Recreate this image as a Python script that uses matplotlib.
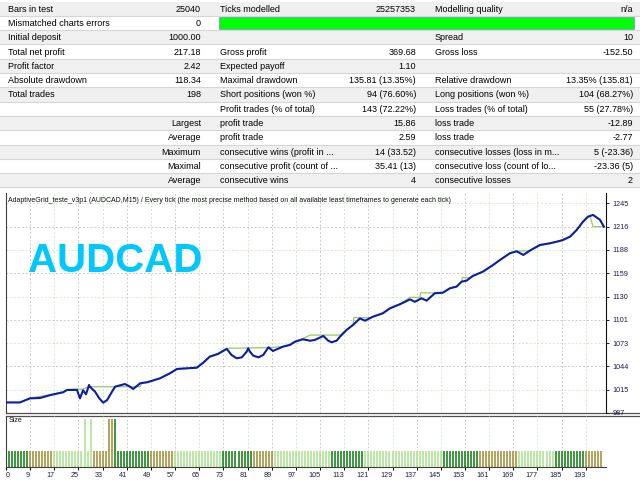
import matplotlib.pyplot as plt
from matplotlib.patches import Rectangle

plt.rcParams['font.family'] = ['Liberation Sans', 'DejaVu Sans']

# report table: label, value, label, value, label, value
report_rows = [
    ["Bars in test", "25040", "Ticks modelled", "25257353", "Modelling quality", "n/a"],
    ["Mismatched charts errors", "0", "", "", "", ""],
    ["Initial deposit", "1000.00", "", "", "Spread", "10"],
    ["Total net profit", "217.18", "Gross profit", "369.68", "Gross loss", "-152.50"],
    ["Profit factor", "2.42", "Expected payoff", "1.10", "", ""],
    ["Absolute drawdown", "118.34", "Maximal drawdown", "135.81 (13.35%)", "Relative drawdown", "13.35% (135.81)"],
    ["Total trades", "198", "Short positions (won %)", "94 (76.60%)", "Long positions (won %)", "104 (68.27%)"],
    ["", "", "Profit trades (% of total)", "143 (72.22%)", "Loss trades (% of total)", "55 (27.78%)"],
    ["", "Largest", "profit trade", "15.86", "loss trade", "-12.89"],
    ["", "Average", "profit trade", "2.59", "loss trade", "-2.77"],
    ["", "Maximum", "consecutive wins (profit in ...", "14 (33.52)", "consecutive losses (loss in m...", "5 (-23.36)"],
    ["", "Maximal", "consecutive profit (count of ...", "35.41 (13)", "consecutive loss (count of lo...", "-23.36 (5)"],
    ["", "Average", "consecutive wins", "4", "consecutive losses", "2"],
]

chart_title = ("AdaptiveGrid_teste_v3p1 (AUDCAD,M15) / Every tick (the most precise method "
               "based on all available least timeframes to generate each tick)")
symbol = "AUDCAD"

# equity curve (trade number, value)
eq_trade = [1.0, 5.6, 8.9, 12.3, 15.6, 19.9, 21.2, 24.5, 25.5, 26.5, 27.5, 28.5,
            28.8, 30.5, 31.9, 33.2, 34.5, 35.8, 37.1, 40.4, 41.8, 43.1, 44.6, 45.4,
            47.7, 52.0, 55.3, 57.6, 60.9, 64.2, 66.2, 68.5, 71.2, 74.1, 75.7, 77.4,
            79.1, 80.7, 81.2, 81.8, 82.9, 84.6, 86.2, 87.9, 89.4, 92.7, 95.0, 96.7,
            99.3, 101.7, 103.3, 106.1, 107.7, 108.8, 110.5, 111.6, 113.8, 115.9, 118.2,
            119.9, 122.5, 125.8, 128.2, 131.5, 134.8, 136.4, 138.6, 140.3, 143.0, 145.7,
            148.0, 150.2, 151.9, 153.5, 155.6, 158.9, 162.3, 164.6, 167.9, 170.1, 172.3,
            174.5, 177.8, 181.1, 183.4, 185.4, 187.8, 190.0, 192.1, 193.7, 195.4, 197.7, 199.0]
eq_value = [1000, 1000, 1005, 1005.5, 1009, 1012.5, 1015.3, 1015.5, 1005, 1015, 1010, 1021.5,
            1019.4, 1013.2, 1005, 999.7, 1003, 1011.3, 1019.4, 1022.7, 1020, 1016.6, 1021, 1023.6,
            1024.8, 1029.7, 1035.9, 1041.2, 1042, 1042.8, 1048.6, 1056.4, 1059.7, 1066, 1058.4, 1054.4,
            1055.6, 1062.5, 1066.7, 1062.5, 1057.6, 1055.6, 1058.5, 1068, 1063.4, 1068.7, 1070.8, 1074.8,
            1077.8, 1076, 1077, 1081.9, 1076.1, 1074.1, 1076.1, 1081, 1089.3, 1095.4, 1103.5,
            1100.7, 1105.6, 1109.8, 1116, 1121, 1127, 1124, 1128.3, 1125.4, 1134.5, 1135.2,
            1140.6, 1142.6, 1148.8, 1150, 1155.8, 1161, 1169.3, 1175.5, 1183.8, 1186.2, 1181.7,
            1187, 1194, 1196, 1198, 1200, 1204.2, 1212.5, 1222.7, 1228.8, 1231, 1225, 1216.5]

# balance curve (trade number, value)
bal_trade = [1.0, 5.6, 8.9, 15.6, 19.9, 21.2, 26.5, 28.5, 45.4, 46.0, 47.7, 52.0, 55.3,
             57.6, 64.2, 66.2, 68.5, 71.2, 74.1, 87.8, 92.7, 95.0, 96.7, 99.3, 101.7,
             111.6, 113.8, 115.9, 116.2, 121.8, 122.5, 125.8, 128.2, 131.5, 134.8, 138.1,
             138.3, 143.0, 145.7, 148.0, 150.2, 151.9, 152.1, 154.6, 155.6, 158.9, 162.3,
             164.6, 167.9, 170.1, 173.4, 174.5, 177.8, 181.1, 183.4, 185.4, 187.8, 190.0,
             192.1, 194.4, 195.4, 199.0]
bal_value = [1000, 1000, 1005.5, 1009.5, 1013, 1016, 1016.5, 1019.4, 1019.4, 1024.5, 1025, 1030, 1036.5,
             1041.5, 1043.5, 1049, 1057, 1060.5, 1066.7, 1067.5, 1068.7, 1071.5, 1075.5, 1078.5, 1083,
             1083, 1089.8, 1095.5, 1104.4, 1104.4, 1105.8, 1110.2, 1116.5, 1121.5, 1129.5, 1129.5,
             1135, 1135, 1135.6, 1141, 1143, 1149.2, 1153.7, 1153.7, 1156.2, 1161.4, 1169.7,
             1175.9, 1184.2, 1186.6, 1186.6, 1187.4, 1193, 1196.4, 1198.4, 1200.4, 1204.6, 1213,
             1223, 1229.7, 1216.5, 1216.5]

# lot size per trade as runs (count, lots)
lot_runs = [(26, 0.01), (1, 0.03), (1, 0.01), (1, 0.03), (5, 0.01), (3, 0.03), (161, 0.01)]
# bar colour per trade as runs (count, kind)
colour_runs = [(8, 'dk'), (8, 'ol'), (13, 'lt'), (7, 'ol'), (12, 'dk'), (8, 'ol'), (16, 'lt'),
               (10, 'dk'), (7, 'ol'), (19, 'lt'), (11, 'dk'), (26, 'lt'), (12, 'dk'), (13, 'ol'),
               (12, 'lt'), (10, 'dk'), (6, 'ol')]

x_ticks = [1, 9, 17, 25, 33, 41, 49, 57, 65, 73, 81, 89, 97, 105, 113, 121, 129, 137,
           145, 153, 161, 169, 177, 185, 193]
x_labels = ["0", "9", "17", "25", "33", "41", "49", "57", "65", "73", "81", "89", "97", "105",
            "113", "121", "129", "137", "145", "153", "161", "169", "177", "185", "193"]
y_ticks = [987, 1015.7, 1044.4, 1073.1, 1101.8, 1130.5, 1159.2, 1187.9, 1216.6, 1245.3]
y_labels = ["987", "1015", "1044", "1073", "1101", "1130", "1159", "1188", "1216", "1245"]

bar_colours = {'dk': '#0a7a0a', 'ol': '#a08a30', 'lt': '#a8e08c'}
lab_col = '#1c1c48'
grid_a, grid_b = '#bdbdbd', '#bfe6bf'

fig = plt.figure(figsize=(6.4, 4.8), dpi=100)

# ---- report table in pixel coordinates
tab = fig.add_axes([0, 0, 1, 1], zorder=-1)
tab.set_xlim(0, 640)
tab.set_ylim(480, 0)
tab.axis('off')
y0, rh = 1.5, 14.3
for i, row in enumerate(report_rows):
    top = y0 + i * rh
    if i % 2 == 0:
        tab.add_patch(Rectangle((0, top), 640, rh, color='#f0f0f0', lw=0))
    tab.plot([0, 640], [top + rh, top + rh], color='#d6d6d6', lw=0.8)
    yc = top + rh / 2 + 0.5
    tab.text(8, yc, row[0], fontsize=6.5, va='center', ha='left')
    tab.text(201, yc, row[1], fontsize=6.5, va='center', ha='right')
    tab.text(220, yc, row[2], fontsize=6.5, va='center', ha='left')
    tab.text(416, yc, row[3], fontsize=6.5, va='center', ha='right')
    tab.text(435, yc, row[4], fontsize=6.5, va='center', ha='left')
    tab.text(633, yc, row[5], fontsize=6.5, va='center', ha='right')
# modelling quality bar
tab.add_patch(Rectangle((219, y0 + rh + 1.5), 415, rh - 3, facecolor='#00ff00',
                        edgecolor='#6aa0d8', lw=0.6))
# panel separators
tab.plot([6, 640], [413, 413], color='#505050', lw=0.9)
tab.plot([6, 640], [416, 416], color='#505050', lw=0.9)

# ---- balance / equity panel
ax = fig.add_axes([6 / 640, 67 / 480, 600 / 640, 220 / 480])
ax.set_facecolor('none')
ax.set_xlim(1, 199.7)
ax.set_ylim(987, 1258)
for k, xt in enumerate(x_ticks[1:]):
    ax.axvline(xt, color=grid_a if k % 2 == 0 else grid_b, lw=0.55, ls=(0, (2.5, 2.5)), zorder=0)
for k, yt in enumerate(y_ticks[1:]):
    ax.axhline(yt, color=grid_a if k % 2 else grid_b, lw=0.55, ls=(0, (2.5, 2.5)), zorder=0)
ax.plot(bal_trade, bal_value, color='#9cc85a', lw=0.9, zorder=2)
ax.plot(eq_trade, eq_value, color='#0a1ea8', lw=1.5, zorder=3)
ax.set_xticks([])
ax.yaxis.tick_right()
ax.set_yticks(y_ticks)
ax.set_yticklabels(y_labels)
ax.tick_params(axis='y', labelsize=5.2, length=2.5, width=0.7, pad=2, colors='#202020',
               labelcolor=lab_col)
for s in ['top', 'bottom']:
    ax.spines[s].set_visible(False)
ax.spines['left'].set_color('#404040')
ax.spines['right'].set_color('#101010')
ax.text(2 / 600, 1 - 7 / 220, chart_title, transform=ax.transAxes, fontsize=5.05,
        va='center', ha='left', color='#101010')
ax.text(22 / 600, (413 - 261) / 220, symbol, transform=ax.transAxes, fontsize=29,
        fontweight='bold', color='#00c8ff', va='center', ha='left')

# ---- lot size panel
trades, lots, cols = [], [], []
n = 1
for cnt, lot in lot_runs:
    for _ in range(cnt):
        trades.append(n)
        lots.append(lot)
        n += 1
for cnt, kind in colour_runs:
    cols.extend([bar_colours[kind]] * cnt)

axv = fig.add_axes([6 / 640, 13 / 480, 600 / 640, 51 / 480])
axv.set_facecolor('none')
axv.set_xlim(1, 199.7)
axv.set_ylim(0, 0.032)
for k, xt in enumerate(x_ticks[1:]):
    axv.axvline(xt, color=grid_a if k % 2 == 0 else grid_b, lw=0.55, ls=(0, (2.5, 2.5)), zorder=0)
axv.vlines(trades, 0, lots, colors=cols, lw=1.1, zorder=2)
axv.set_yticks([])
axv.set_xticks(x_ticks)
axv.set_xticklabels(x_labels)
axv.tick_params(axis='x', labelsize=5.2, length=2, width=0.7, pad=1.5, labelcolor=lab_col)
for k, lab in enumerate(axv.get_xticklabels()):
    lab.set_ha('left' if k == 0 else 'right')
for s in ['top', 'right']:
    axv.spines[s].set_visible(False)
axv.spines['left'].set_color('#404040')
axv.spines['bottom'].set_color('#404040')
axv.text(3 / 600, 1 - 5 / 51, "Size", transform=axv.transAxes, fontsize=5.0,
         va='center', ha='left', color='#101010')

fig.savefig('out.png', dpi=100)
